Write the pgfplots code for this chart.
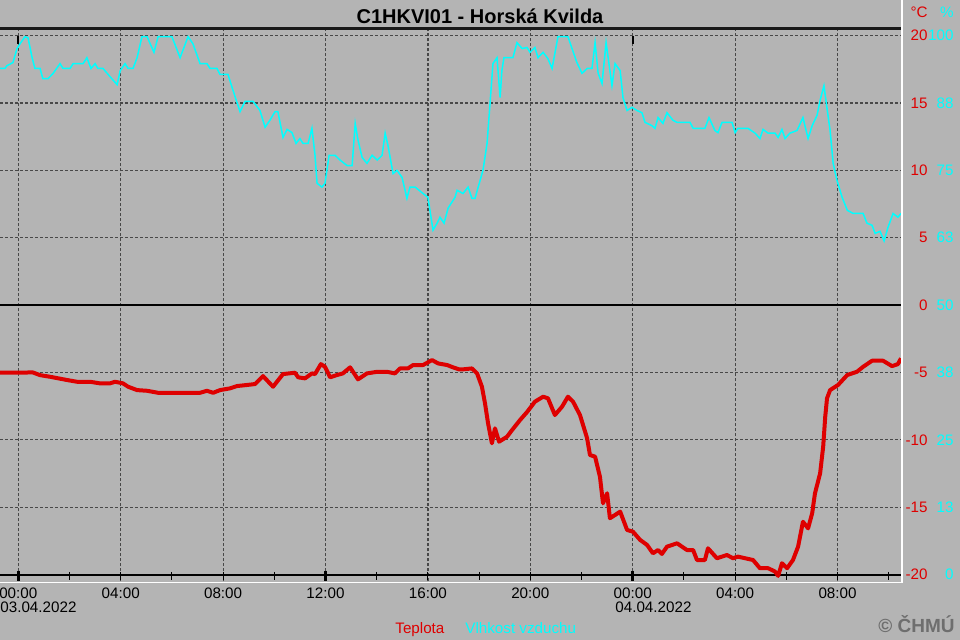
\documentclass[border=0pt]{standalone}
\usepackage{fontspec}
\setmainfont{Liberation Sans}
\usepackage{pgfplots}
\usepackage{pgfplotstable}
\pgfplotsset{compat=1.18}
\definecolor{bg}{RGB}{180,180,180}
\definecolor{tred}{RGB}{222,0,0}
\definecolor{hcyan}{RGB}{0,255,255}
\definecolor{gridc}{RGB}{72,72,72}
\definecolor{copyc}{RGB}{110,110,110}
\newcommand{\lf}{\fontsize{7.6}{9}\selectfont}
\pgfplotstableread{
h T
-0.715 -5.02
0.57 -5.00
0.85 -5.20
1.24 -5.32
1.90 -5.56
2.29 -5.69
2.80 -5.69
3.19 -5.81
3.58 -5.81
3.78 -5.69
4.09 -5.81
4.29 -6.06
4.64 -6.31
5.03 -6.36
5.46 -6.51
7.10 -6.51
7.37 -6.36
7.61 -6.51
7.88 -6.31
8.27 -6.18
8.54 -6.01
8.93 -5.93
9.25 -5.86
9.56 -5.27
9.95 -6.06
10.34 -5.12
10.81 -5.02
10.93 -5.36
11.20 -5.44
11.47 -5.07
11.59 -5.12
11.82 -4.38
11.98 -4.58
12.18 -5.36
12.45 -5.19
12.68 -5.07
12.96 -4.62
13.27 -5.51
13.62 -5.07
14.02 -4.95
14.40 -4.95
14.71 -5.07
14.91 -4.70
15.22 -4.70
15.42 -4.45
15.81 -4.45
16.16 -4.08
16.40 -4.33
16.75 -4.45
16.98 -4.62
17.22 -4.77
17.37 -4.77
17.72 -4.70
17.92 -5.07
18.11 -6.06
18.23 -7.29
18.35 -8.78
18.50 -10.26
18.62 -9.15
18.78 -10.14
19.09 -9.77
19.29 -9.27
19.60 -8.53
19.88 -7.92
20.18 -7.17
20.50 -6.80
20.69 -6.92
20.96 -8.16
21.24 -7.54
21.47 -6.80
21.67 -7.17
21.94 -8.16
22.22 -9.89
22.33 -11.13
22.53 -11.25
22.72 -12.74
22.84 -14.71
23.00 -13.97
23.11 -15.82
23.31 -15.58
23.51 -15.33
23.78 -16.69
24.01 -16.82
24.29 -17.43
24.56 -17.80
24.79 -18.42
24.99 -18.18
25.14 -18.47
25.34 -17.93
25.73 -17.68
26.12 -18.18
26.36 -18.18
26.51 -18.92
26.82 -18.92
26.94 -18.05
27.29 -18.79
27.68 -18.55
27.92 -18.79
28.11 -18.67
28.39 -18.79
28.70 -18.92
28.97 -19.53
29.29 -19.53
29.56 -19.78
29.68 -20.10
29.83 -19.16
30.03 -19.53
30.26 -18.92
30.46 -17.93
30.65 -16.08
30.85 -16.57
31.01 -15.45
31.12 -13.97
31.32 -12.49
31.44 -10.51
31.52 -8.29
31.59 -6.92
31.71 -6.31
32.02 -5.93
32.38 -5.19
32.76 -4.95
33.00 -4.58
33.35 -4.13
33.78 -4.13
34.13 -4.53
34.36 -4.38
34.48 -3.95
}\temptab
\pgfplotstableread{
h H
-0.715 93.9
-0.52 93.9
-0.45 94.4
-0.21 95.0
-0.05 97.6
0.07 98.5
0.26 99.8
0.38 99.6
0.54 95.9
0.65 93.9
0.85 93.9
0.96 92.0
1.16 92.0
1.36 93.0
1.63 94.8
1.75 93.9
2.02 93.9
2.14 94.8
2.53 94.8
2.68 95.9
2.84 93.9
3.00 94.8
3.11 93.9
3.31 93.9
3.58 92.4
3.86 90.9
3.98 93.5
4.17 94.8
4.29 93.9
4.48 93.9
4.64 95.9
4.83 99.8
5.03 99.8
5.30 96.9
5.46 99.8
6.00 99.8
6.32 95.9
6.63 99.8
6.82 98.5
7.10 94.8
7.37 94.8
7.49 93.9
7.76 93.9
7.88 92.8
8.19 92.8
8.39 89.8
8.66 85.9
8.86 87.8
9.17 87.8
9.44 86.1
9.64 83.0
9.83 84.3
10.03 85.9
10.14 85.9
10.34 81.1
10.50 82.6
10.69 82.0
10.85 80.0
11.00 80.9
11.12 80.0
11.32 80.0
11.47 82.8
11.59 77.8
11.67 72.6
11.86 71.9
11.98 72.6
12.14 77.8
12.37 77.8
12.57 76.9
12.84 75.9
13.04 75.9
13.16 83.7
13.27 80.6
13.43 77.4
13.62 76.3
13.82 77.8
14.02 76.9
14.21 77.8
14.33 81.9
14.44 79.6
14.64 74.4
14.79 75.0
14.99 73.7
15.18 69.8
15.30 71.9
15.50 71.9
15.81 70.7
16.00 70.0
16.20 63.9
16.36 65.2
16.47 66.3
16.63 65.2
16.79 68.0
17.06 70.0
17.14 71.3
17.37 70.7
17.57 71.9
17.72 69.8
17.84 69.8
18.15 75.0
18.31 80.0
18.43 87.6
18.54 94.8
18.70 95.9
18.82 88.5
18.89 93.5
18.97 95.9
19.32 95.9
19.48 98.7
19.68 97.6
19.87 97.8
19.99 96.9
20.18 97.8
20.30 95.9
20.50 96.9
20.69 95.7
20.85 93.9
21.08 99.8
21.47 99.8
21.82 95.0
22.02 93.0
22.22 93.9
22.41 93.9
22.53 98.7
22.65 93.0
22.80 91.1
22.96 98.7
23.19 90.7
23.31 94.8
23.51 93.5
23.62 88.5
23.78 86.1
23.97 86.7
24.17 86.1
24.36 85.7
24.48 83.9
24.75 83.3
24.87 82.8
24.99 84.8
25.18 83.7
25.34 85.7
25.57 84.3
25.73 83.9
26.24 83.9
26.36 82.8
26.82 82.8
26.98 84.8
27.21 82.4
27.33 82.0
27.49 83.9
27.88 83.9
28.00 82.0
28.11 82.8
28.50 82.8
28.78 81.9
28.97 80.9
29.09 82.6
29.29 81.9
29.56 81.9
29.68 81.1
29.83 82.6
29.95 80.9
30.14 81.9
30.42 82.4
30.65 84.8
30.85 80.9
31.01 83.3
31.20 85.2
31.32 88.0
31.47 90.7
31.59 86.5
31.71 82.4
31.83 76.3
31.98 73.1
32.18 70.0
32.38 67.6
32.61 67.0
33.00 67.0
33.15 65.2
33.35 64.8
33.47 63.3
33.66 63.7
33.82 61.9
33.97 64.4
34.17 67.0
34.36 66.3
34.48 67.0
}\humtab
\begin{document}
\begin{tikzpicture}
\fill[bg] (0,0) rectangle (480pt,320pt);
\begin{axis}[
  scale only axis, width=450.5pt, height=276.2pt,
  at={(0pt,29.35pt)}, anchor=south west,
  xmin=-0.715, xmax=34.48, ymin=-20.5, ymax=20.5,
  axis line style={draw=none},
  clip=false,
  major tick length=0pt,
  xtick={0,4,8,12,16,20,24,28,32},
  xticklabels={00:00,04:00,08:00,12:00,16:00,20:00,00:00,04:00,08:00},
  xticklabel style={font=\lf, inner sep=0pt, anchor=north, yshift=-2.9pt},
  ytick={-20,-15,-10,-5,0,5,10,15,20},
  yticklabels={-20,-15,-10,-5,0,5,10,15,20},
  yticklabel pos=right,
  yticklabel style={font=\lf, text=tred, inner sep=0pt, anchor=east, xshift=13.5pt},
  grid=major,
  major grid style={gridc, line width=0.6pt, dash pattern=on 1.6pt off 0.9pt},
]
\draw[black, line width=0.8pt] (axis cs:-0.715,0) -- (axis cs:34.48,0);
\draw[black, line width=1pt] (axis cs:-0.715,-20) -- (axis cs:34.48,-20);
\pgfplotsinvokeforeach{0,2,4,6,8,10,12,14,16,18,20,22,24,26,28,30,32,34}{
  \draw[black, line width=0.5pt] (axis cs:#1,-19.8) -- (axis cs:#1,-20.4);
}
\pgfplotsinvokeforeach{0,12,24}{
  \draw[black, line width=1.5pt] (axis cs:#1,-19.7) -- (axis cs:#1,-20.5);
}
\draw[black!90, line width=1.5pt] (axis cs:-0.715,20.53) -- (axis cs:34.48,20.53);
\pgfplotsinvokeforeach{0,24}{
  \draw[black, line width=1pt] (axis cs:#1,20) -- (axis cs:#1,19.4);
}
\addplot[tred, line width=2pt, line join=round] table[x=h, y=T] {\temptab};
\end{axis}
\begin{axis}[
  scale only axis, width=450.5pt, height=276.2pt,
  at={(0pt,29.35pt)}, anchor=south west,
  xmin=-0.715, xmax=34.48, ymin=-1.25, ymax=101.25,
  axis line style={draw=none},
  clip=false,
  major tick length=0pt,
  xtick=\empty,
  ytick={0,12.5,25,37.5,50,62.5,75,87.5,100},
  yticklabels={0,13,25,38,50,63,75,88,100},
  yticklabel pos=right,
  yticklabel style={font=\lf, text=hcyan, inner sep=0pt, anchor=east, xshift=26.5pt},
]
\addplot[hcyan, line width=0.75pt] table[x=h, y=H] {\humtab};
\end{axis}
\draw[white, line width=0.75pt] (451pt,320pt) -- (451pt,28.75pt) -- (0pt,28.75pt);
\node[anchor=base, inner sep=0pt, font=\bfseries\fontsize{10}{12}\selectfont] at (240pt,308pt) {C1HKVI01 - Horská Kvilda};
\node[anchor=base east, inner sep=0pt, text=tred, font=\lf] at (464pt,311pt) {°C};
\node[anchor=base east, inner sep=0pt, text=hcyan, font=\lf] at (477pt,311pt) {\%};
\node[anchor=north west, inner sep=0pt, font=\lf] at (0pt,19pt) {03.04.2022};
\node[anchor=north west, inner sep=0pt, font=\lf] at (307.5pt,19pt) {04.04.2022};
\node[anchor=north west, inner sep=0pt, font=\lf, text=tred] at (197.5pt,9pt) {Teplota};
\node[anchor=north west, inner sep=0pt, font=\lf, text=hcyan] at (232.5pt,9pt) {Vlhkost vzduchu};
\node[anchor=base east, inner sep=0pt, font=\bfseries\fontsize{9.5}{11}\selectfont, text=copyc] at (477.5pt,3.5pt) {© ČHMÚ};
\pgfresetboundingbox
\useasboundingbox (0,0) rectangle (480pt,320pt);
\end{tikzpicture}
\end{document}
